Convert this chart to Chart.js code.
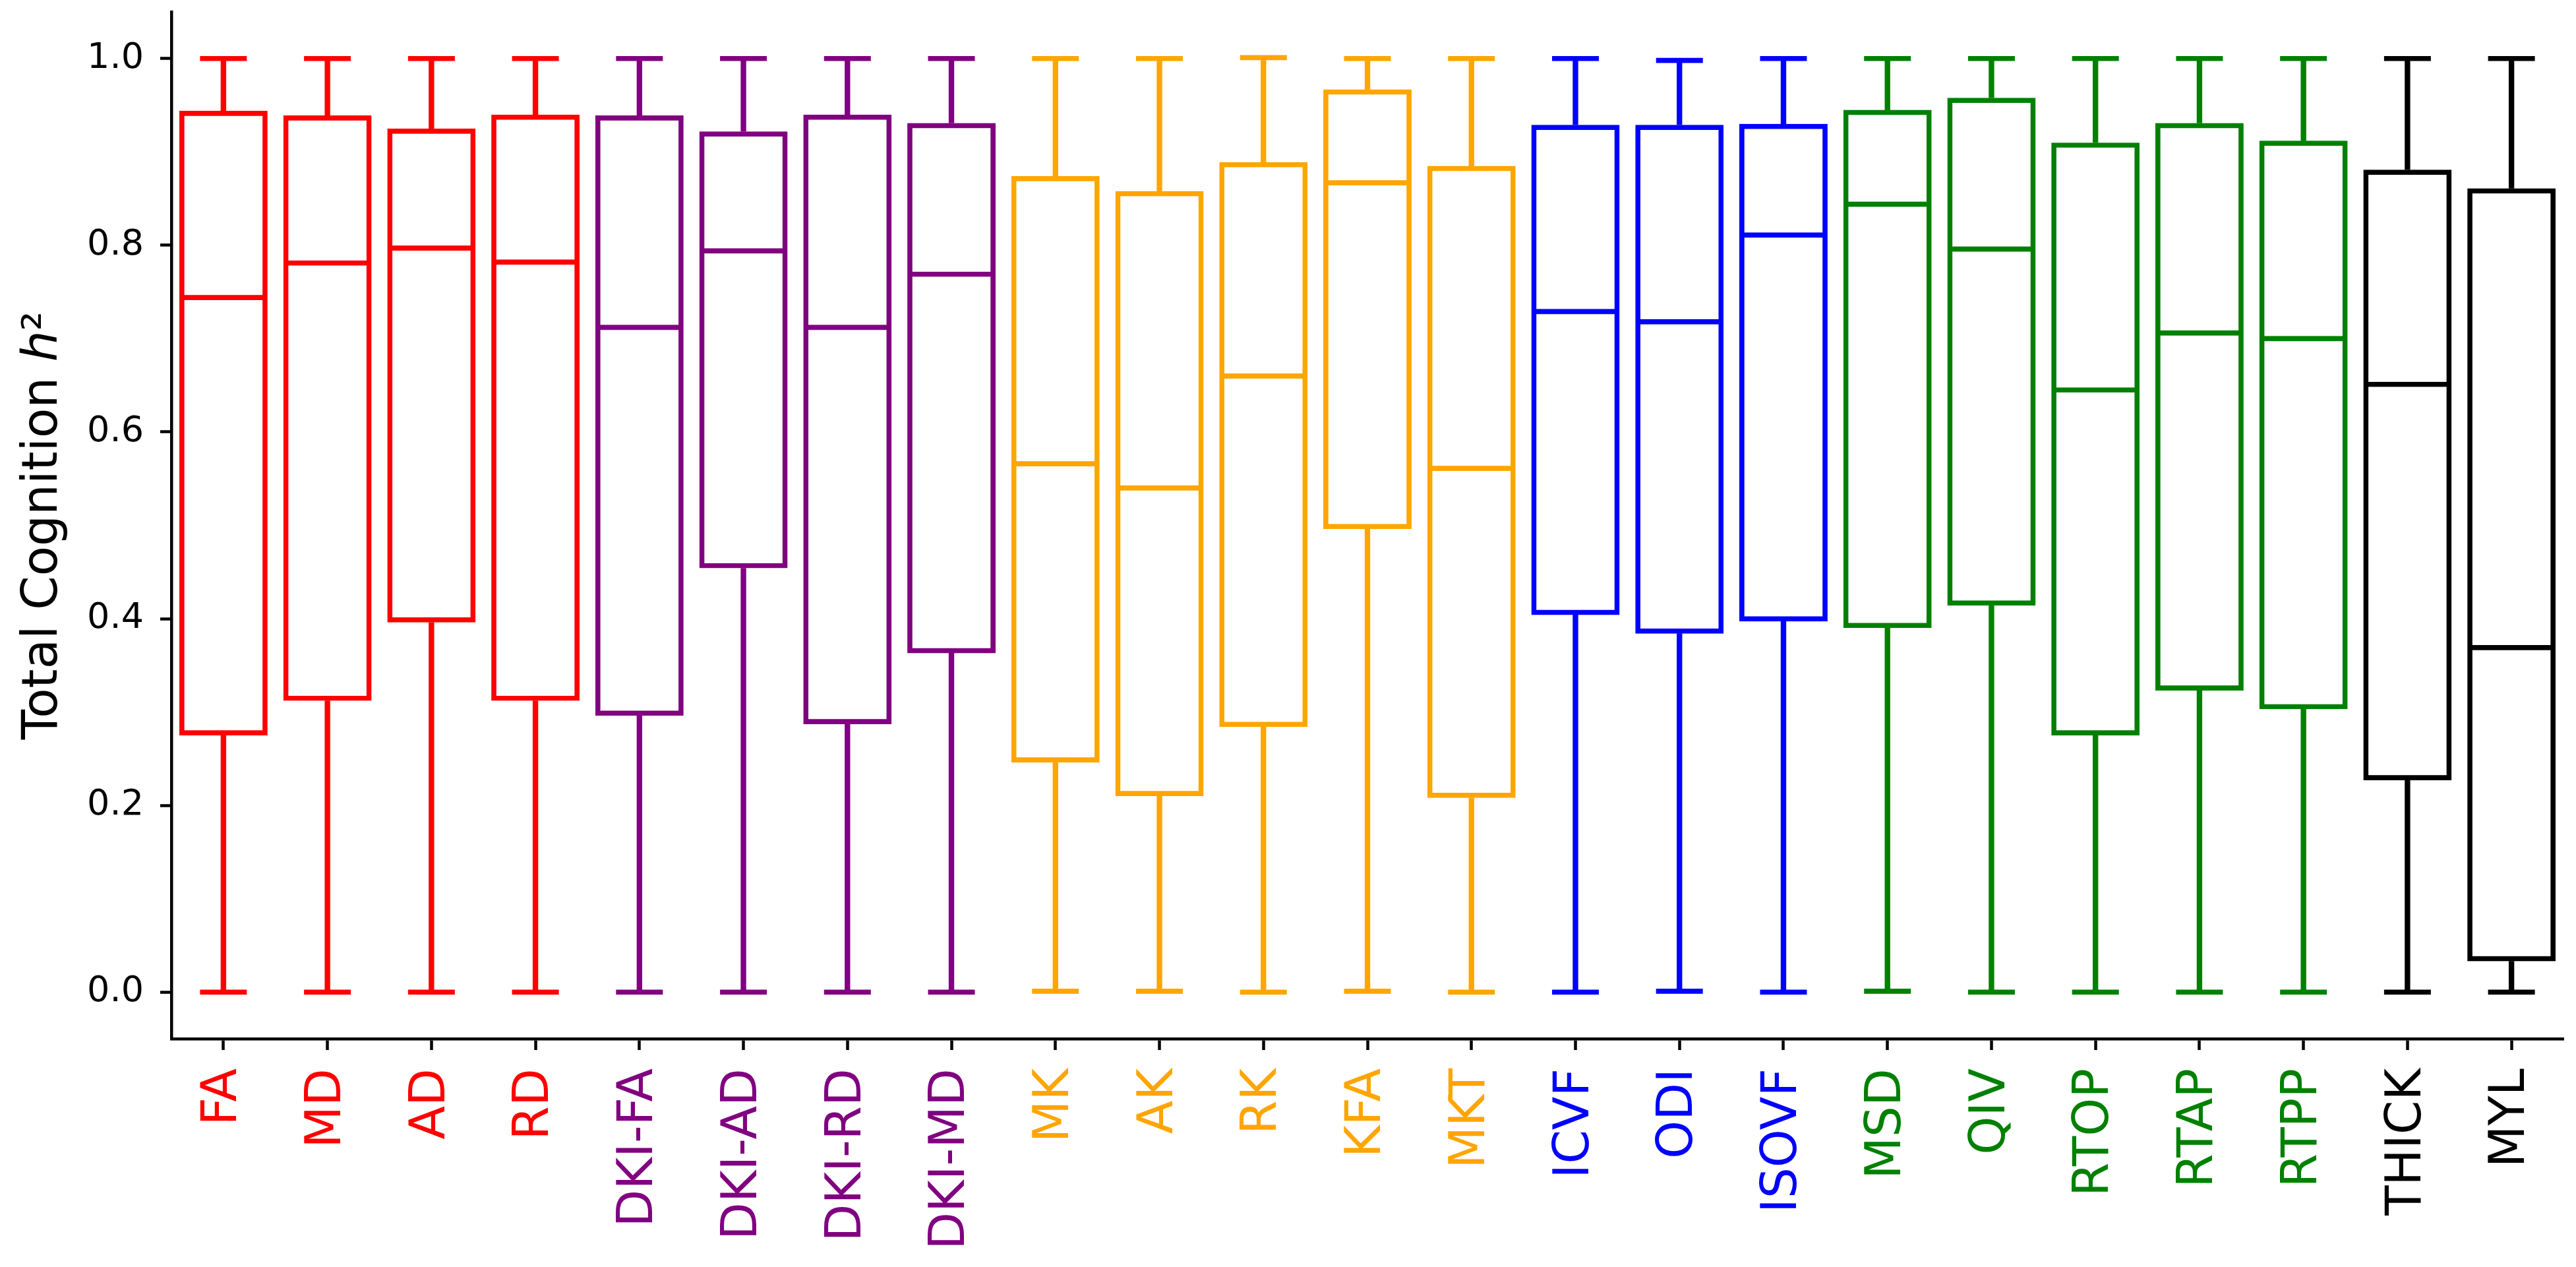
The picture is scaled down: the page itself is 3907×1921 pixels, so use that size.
<!DOCTYPE html>
<html>
<head>
<meta charset="utf-8">
<script src="https://cdn.jsdelivr.net/npm/chart.js@4.4.0/dist/chart.umd.min.js"></script>
<style>
html,body{margin:0;padding:0;background:#ffffff;}
#wrap{width:3907px;height:1921px;background:#ffffff;}
</style>
</head>
<body>
<div id="wrap"><canvas id="c" width="3907" height="1921"></canvas></div>
<script>
// ---- data ----
const categories = ['FA','MD','AD','RD','DKI-FA','DKI-AD','DKI-RD','DKI-MD','MK','AK','RK','KFA','MKT','ICVF','ODI','ISOVF','MSD','QIV','RTOP','RTAP','RTPP','THICK','MYL'];
const whiskerLow  = [0.000,0.000,0.000,0.000, 0.000,0.000,0.000,0.000, 0.001,0.001,0.000,0.001,0.000, 0.000,0.001,0.000, 0.001,0.000,0.000,0.000,0.000, 0.000,0.000];
const q1          = [0.275,0.312,0.396,0.312, 0.296,0.454,0.287,0.363, 0.246,0.210,0.284,0.496,0.208, 0.404,0.384,0.397, 0.390,0.414,0.275,0.323,0.303, 0.227,0.033];
const median      = [0.744,0.781,0.797,0.782, 0.712,0.794,0.712,0.769, 0.566,0.540,0.660,0.867,0.561, 0.729,0.718,0.811, 0.844,0.796,0.645,0.706,0.700, 0.651,0.369];
const q3          = [0.944,0.939,0.925,0.940, 0.939,0.922,0.940,0.931, 0.874,0.858,0.889,0.967,0.885, 0.929,0.929,0.930, 0.945,0.958,0.910,0.931,0.912, 0.881,0.861];
const whiskerHigh = [1.000,1.000,1.000,1.000, 1.000,1.000,1.000,1.000, 1.000,1.000,1.001,1.000,1.000, 1.000,0.998,1.000, 1.000,1.000,1.000,1.000,1.000, 1.000,1.000];
const yTicks = [0.0, 0.2, 0.4, 0.6, 0.8, 1.0];
const yTitle = 'Total Cognition \u210E\u00B2';

// ---- styles ----
const colors = ['red','red','red','red','purple','purple','purple','purple','orange','orange','orange','orange','orange','blue','blue','blue','green','green','green','green','green','black','black'];
const LW = 7.7;
const FONT = 'DejaVu Sans';

const pairs = (a, b) => categories.map((c, i) => [a[i], b[i]]);

const axisGrid = {display:true, drawOnChartArea:false, drawTicks:true, tickLength:17, tickWidth:4.5, tickColor:'#000000', offset:false};
const axisBorder = {display:true, color:'#000000', width:4.5};

function noEdgePadding(s) {
  s.paddingLeft = 0; s.paddingRight = 0; s.paddingTop = 0; s.paddingBottom = 0;
}

new Chart(document.getElementById('c'), {
  type: 'bar',
  data: {
    labels: categories,
    datasets: [
      {type:'bar', label:'upper whisker', data: pairs(q3, whiskerHigh), backgroundColor: colors, borderWidth:0, barThickness: LW, grouped:false, order:5},
      {type:'bar', label:'lower whisker', data: pairs(whiskerLow, q1), backgroundColor: colors, borderWidth:0, barThickness: LW, grouped:false, order:5},
      {type:'bar', label:'box', data: pairs(q1, q3), backgroundColor:'rgba(0,0,0,0)', borderColor: colors, borderWidth: LW, borderSkipped:false, grouped:false, barPercentage:0.849, categoryPercentage:1, order:3},
      {type:'line', label:'median', data: median, showLine:false, pointStyle:'line', pointRadius:63, pointHoverRadius:63, pointBorderWidth:LW, pointBorderColor: colors, pointBackgroundColor: colors, clip:false, order:2},
      {type:'line', label:'cap high', data: whiskerHigh, showLine:false, pointStyle:'line', pointRadius:35.5, pointHoverRadius:35.5, pointBorderWidth:LW, pointBorderColor: colors, pointBackgroundColor: colors, clip:false, order:1},
      {type:'line', label:'cap low', data: whiskerLow, showLine:false, pointStyle:'line', pointRadius:35.5, pointHoverRadius:35.5, pointBorderWidth:LW, pointBorderColor: colors, pointBackgroundColor: colors, clip:false, order:1}
    ]
  },
  options: {
    responsive:false,
    animation:false,
    devicePixelRatio:1,
    layout:{autoPadding:false, padding:{left:0, right:19, top:18, bottom:0}},
    plugins:{legend:{display:false}, tooltip:{enabled:false}, title:{display:false}},
    scales:{
      x:{
        type:'category',
        offset:true,
        grid: axisGrid,
        border: axisBorder,
        ticks:{autoSkip:false, minRotation:90, maxRotation:90, padding:28,
               color: (ctx) => colors[ctx.index],
               font:{family:FONT, size:74}},
        afterFit: (s) => { s.height = 346; noEdgePadding(s); }
      },
      y:{
        type:'linear',
        min:-0.05,
        max:1.05,
        afterBuildTicks: (s) => { s.ticks = yTicks.map(v => ({value:v})); },
        grid: axisGrid,
        border: axisBorder,
        ticks:{padding:25, color:'#000000', font:{family:FONT, size:54},
               callback: (v) => Number(v).toFixed(1)},
        title:{display:true, text:yTitle, color:'#000000', font:{family:FONT, size:74}, padding:{top:22, bottom:0}},
        afterFit: (s) => { s.width = 260; noEdgePadding(s); }
      }
    }
  }
});
</script>
</body>
</html>
